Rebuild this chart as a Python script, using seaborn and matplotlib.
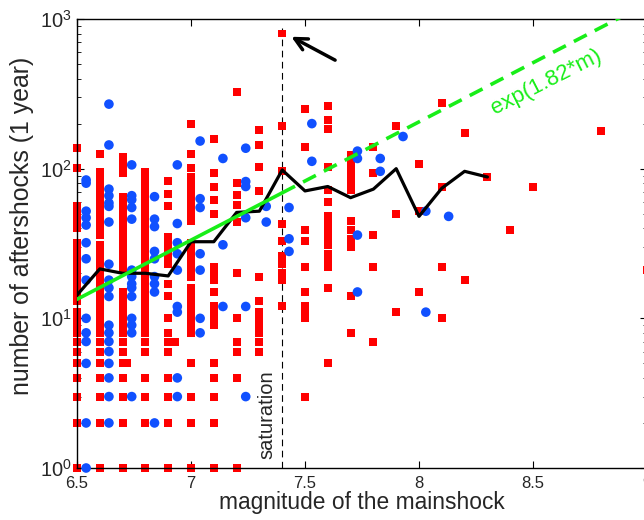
import numpy as np
import pandas as pd
import seaborn as sns
import matplotlib.pyplot as plt
from matplotlib.ticker import FixedLocator

# red squares: aftershock counts (1 year) for each mainshock magnitude column
red_m650 = [1, 2, 3, 4, 5, 6, 7, 8, 9, 10, 11, 13, 14, 15, 16, 17, 18, 19, 20, 21, 22, 23, 24, 25, 26, 27, 28, 30, 32,
            40, 42, 44, 47, 50, 53, 56, 101, 138]
red_m660 = [1, 2, 3, 4, 5, 6, 7, 8, 9, 10, 11, 12, 13, 14, 15, 16, 17, 19, 21, 23, 25, 27, 29, 31, 36, 39, 42, 45, 48,
            52, 57, 65, 70, 76, 82, 90, 95, 125]
red_m670 = [1, 2, 3, 4, 5, 6, 7, 8, 9, 10, 11, 12, 13, 14, 15, 21, 23, 25, 27, 30, 33, 36, 40, 45, 50, 55, 60, 65, 93,
            100, 110, 120]
red_m680 = [1, 2, 3, 4, 6, 7, 8, 9, 10, 11, 12, 13, 14, 15, 16, 17, 18, 19, 20, 22, 24, 26, 28, 30, 32, 35, 38, 42, 46,
            51, 58, 63, 70, 78, 86, 95]
red_m690 = [1, 2, 3, 4, 6, 7, 8, 10, 14, 17, 23, 25, 28, 31, 35, 56, 68, 83]
red_m700 = [1, 2, 3, 5, 8, 9, 10, 11, 12, 13, 14, 15, 16, 19, 21, 23, 25, 28, 30, 32, 45, 50, 55, 62, 70, 78, 88, 101,
            126, 200]
red_m710 = [1, 2, 3, 4, 5, 9, 10, 11, 12, 15, 18, 20, 22, 50, 62, 75, 94, 157]
red_m720 = [1, 4, 6, 7, 10, 20, 44, 57, 67, 80, 323]
red_m730 = [6, 7, 8, 9, 10, 11, 13, 19, 71, 102, 145, 181]
red_m740 = [12, 18, 20, 23, 26, 33, 43, 96, 194, 800]
red_m750 = [3, 10, 11, 12, 15, 22, 33, 39, 140, 250]
red_m760 = [5, 16, 22, 25, 27, 31, 35, 39, 43, 48, 60, 72, 103, 183, 212, 262]
red_m770 = [8, 14, 30, 34, 39, 45, 72, 78, 84, 92, 100, 110, 123]
red_m780 = [7, 22, 36, 94, 139]
red_m790 = [11, 50, 194]
red_m800 = [15, 52, 107]
red_m810 = [10, 22, 75, 276]
red_m820 = [18, 172]
red_m830 = [88]
red_m840 = [39]
red_m850 = [75]
red_m880 = [179]
red_m900 = [21]
red_mags = [6.5, 6.6, 6.7, 6.8, 6.9, 7.0, 7.1, 7.2, 7.3, 7.4, 7.5, 7.6, 7.7, 7.8, 7.9, 8.0, 8.1, 8.2, 8.3, 8.4, 8.5,
            8.8, 9.0]
red_cols = [red_m650, red_m660, red_m670, red_m680, red_m690, red_m700, red_m710, red_m720, red_m730, red_m740,
            red_m750, red_m760, red_m770, red_m780, red_m790, red_m800, red_m810, red_m820, red_m830, red_m840,
            red_m850, red_m880, red_m900]
red_extra_mag = [6.72, 6.93]
red_extra_n = [5, 7]

# blue circles
blue_m654 = [1, 2, 5, 7, 8, 10, 18, 25, 32, 42, 47, 52, 80, 84]
blue_m664 = [2, 3, 4, 5, 6, 7, 8, 9, 14, 16, 18, 23, 44, 56, 59, 66, 73, 144, 270]
blue_m674 = [3, 8, 9, 10, 14, 16, 17, 19, 21, 46, 55, 62, 66, 106]
blue_m684 = [2, 15, 17, 19, 25, 28, 41, 46, 65]
blue_m694 = [3, 4, 11, 12, 21, 27, 32, 43, 106]
blue_m704 = [8, 10, 21, 27, 55, 63, 153]
blue_m714 = [12, 31, 117]
blue_m724 = [3, 12, 47, 76, 82, 137]
blue_m733 = [44, 56]
blue_m743 = [28, 34, 55]
blue_m753 = [112, 200]
blue_m773 = [15, 36, 117, 131]
blue_m783 = [96, 117]
blue_m793 = [164]
blue_m803 = [11, 52]
blue_m813 = [48]
blue_mags = [6.54, 6.64, 6.74, 6.84, 6.94, 7.04, 7.14, 7.24, 7.33, 7.43, 7.53, 7.73, 7.83, 7.93, 8.03, 8.13]
blue_cols = [blue_m654, blue_m664, blue_m674, blue_m684, blue_m694, blue_m704, blue_m714, blue_m724, blue_m733,
             blue_m743, blue_m753, blue_m773, blue_m783, blue_m793, blue_m803, blue_m813]

# black running curve
black_mag = [6.5, 6.6, 6.7, 6.8, 6.9, 7.0, 7.1, 7.2, 7.3, 7.4, 7.5, 7.6, 7.7, 7.8, 7.9, 8.0, 8.1, 8.2, 8.3]
black_n = [14.3, 21.4, 20.0, 20.0, 19.2, 32.5, 32.5, 51.0, 52.0, 98.0, 71.0, 76.0, 64.0, 73.0, 100.0, 48.0, 74.0,
           96.0, 88.0]

# green fit exp(1.82*m), anchored at m = 6.5
fit_rate = 1.82
fit_n650 = 13.4
saturation_mag = 7.4

xticks = [6.5, 7, 7.5, 8, 8.5, 9]
xtick_labels = ['6.5', '7', '7.5', '8', '8.5', '9']

red_df = pd.concat([pd.DataFrame({'mag': m, 'n': c}) for m, c in zip(red_mags, red_cols)]
                   + [pd.DataFrame({'mag': red_extra_mag, 'n': red_extra_n})], ignore_index=True)
blue_df = pd.concat([pd.DataFrame({'mag': m, 'n': c}) for m, c in zip(blue_mags, blue_cols)], ignore_index=True)

sns.set_style('ticks')
plt.rcParams['font.family'] = ['Liberation Sans', 'DejaVu Sans']
plt.rcParams['mathtext.fontset'] = 'custom'
plt.rcParams['mathtext.rm'] = 'Liberation Sans'
plt.rcParams['xtick.direction'] = 'in'
plt.rcParams['ytick.direction'] = 'in'

txt = '#262626'
green = '#18ee18'

fig = plt.figure(figsize=(6.44, 5.2), dpi=100)
ax = fig.add_axes([77 / 644, 52 / 520, 570 / 644, 449 / 520])

ax.plot([saturation_mag, saturation_mag], [1, 900], color='k', lw=0.8, ls=(0, (6, 4)), zorder=1)

sns.scatterplot(data=red_df, x='mag', y='n', marker='s', s=33, color='#ff0000', edgecolor='none', linewidth=0,
                clip_on=False, zorder=2, legend=False, ax=ax)
sns.scatterplot(data=blue_df, x='mag', y='n', marker='o', s=48, color='#1050ff', edgecolor='none', linewidth=0,
                clip_on=False, zorder=3, legend=False, ax=ax)

sns.lineplot(x=black_mag, y=black_n, estimator=None, sort=False, color='k', lw=2.3, zorder=4, ax=ax)

m_solid = np.array([6.5, saturation_mag])
m_dash = np.array([saturation_mag, 9.0])
ax.plot(m_solid, fit_n650 * np.exp(fit_rate * (m_solid - 6.5)), color=green, lw=2.6, zorder=5)
ax.plot(m_dash, fit_n650 * np.exp(fit_rate * (m_dash - 6.5)), color=green, lw=2.6, ls=(0, (4, 2.5)), zorder=5)

ax.set_yscale('log')
ax.set_xlim(6.5, 9)
ax.set_ylim(1, 1000)
ax.xaxis.set_major_locator(FixedLocator(xticks))
ax.set_xticklabels(xtick_labels)
ax.tick_params(which='both', top=True, right=True, colors='k', labelcolor=txt)
ax.tick_params(which='major', length=5, width=0.8)
ax.tick_params(which='minor', length=3, width=0.6)
ax.tick_params(axis='x', which='major', labelsize=12, pad=6)
ax.tick_params(axis='y', which='major', labelsize=14.5, pad=4)
for sp in ax.spines.values():
    sp.set_color('k')
    sp.set_linewidth(1.0)

ax.set_xlabel('magnitude of the mainshock', fontsize=16.4, color=txt)
ax.set_ylabel('number of aftershocks (1 year)', fontsize=17.9, color=txt)
ax.xaxis.set_label_coords(0.5, -0.052)
ax.xaxis.label.set_va('top')
ax.yaxis.set_label_coords(-0.076, 0.54)

ax.text(7.333, 2.26, 'saturation', rotation=90, ha='center', va='center', fontsize=14.5, color=txt)
ax.text(8.557, 379, 'exp(1.82*m)', rotation=27, ha='center', va='center', fontsize=16, color=green)

ax.annotate('', xy=(7.44, 761), xytext=(7.632, 531),
            arrowprops=dict(arrowstyle='->', lw=2.5, color='k', mutation_scale=22, shrinkA=0, shrinkB=0))

fig.savefig('out.png', dpi=100)
